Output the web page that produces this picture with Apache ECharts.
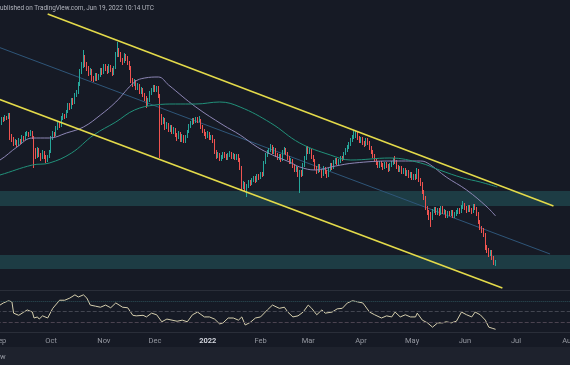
<!DOCTYPE html>
<html><head><meta charset="utf-8">
<script src="https://cdn.jsdelivr.net/npm/echarts/dist/echarts.min.js"></script>
<style>html,body{margin:0;padding:0;background:#161a25;overflow:hidden}#c{width:570px;height:365px}</style>
</head><body><div id="c"></div><script>
// ---- axis domain ----
const axisStart = '2021-08-20';
const axisDays = 356;
const candleStart = '2021-08-25';
const monthNames = ['Jan','Feb','Mar','Apr','May','Jun','Jul','Aug','Sep','Oct','Nov','Dec'];

// ---- daily candles (price units) ----
const opens = [170,173,176,172,174,171,169,
172,176,181,180,183,182,185,164,161,156,
159,155,160,158,163,161,166,167,165,168,
163,150,144,151,145,142,148,143,140,143,
148,162,167,165,172,176,174,182,185,183,
188,195,192,200,197,205,208,215,228,234,
242,236,232,226,230,222,220,225,221,224,
230,227,234,232,228,234,230,226,232,245,
250,246,240,238,244,242,237,232,220,216,
218,212,215,208,211,205,202,196,200,207,
210,213,210,212,204,182,178,180,172,176,
170,173,168,171,165,162,167,160,164,159,
163,168,174,177,180,178,181,179,180,173,
169,166,164,167,162,163,159,148,144,146,
141,143,146,144,142,145,147,143,145,142,
144,140,132,115,116,112,114,118,116,120,
122,119,124,122,126,125,137,145,148,150,
153,148,151,145,142,144,140,148,151,147,
142,138,140,134,130,132,125,128,125,135,
142,152,148,150,143,140,132,128,134,130,
125,132,128,124,130,135,132,138,140,137,
139,142,141,146,150,153,156,160,163,165,
166,162,159,161,157,155,160,157,152,148,
144,140,137,134,137,135,132,136,134,130,
135,137,140,138,133,130,132,128,130,126,
128,124,126,122,124,122,130,120,116,108,
102,92,88,84,82,89,91,87,90,86,
92,88,89,84,87,86,88,84,86,88,
90,88,93,96,92,89,93,90,88,94,
92,86,78,72,70,66,53,50,46,48,
42,37];
const closes = [173,176,172,174,171,169,172,
176,181,180,183,182,185,164,161,156,159,
155,160,158,163,161,166,167,165,168,163,
150,144,151,145,142,148,143,140,143,148,
162,167,165,172,176,174,182,185,183,188,
195,192,200,197,205,208,215,228,234,242,
236,232,226,230,222,220,225,221,224,230,
227,234,232,228,234,230,226,232,245,250,
246,240,238,244,242,237,232,220,216,218,
212,215,208,211,205,202,196,200,207,210,
213,210,212,204,182,178,180,172,176,170,
173,168,171,165,162,167,160,164,159,163,
168,174,177,180,178,181,179,180,173,169,
166,164,167,162,163,159,148,144,146,141,
143,146,144,142,145,147,143,145,142,144,
140,132,115,116,112,114,118,116,120,122,
119,124,122,126,125,137,145,148,150,153,
148,151,145,142,144,140,148,151,147,142,
138,140,134,130,132,125,128,125,135,142,
152,148,150,143,140,132,128,134,130,125,
132,128,124,130,135,132,138,140,137,139,
142,141,146,150,153,156,160,163,165,166,
162,159,161,157,155,160,157,152,148,144,
140,137,134,137,135,132,136,134,130,135,
137,140,138,133,130,132,128,130,126,128,
124,126,122,124,122,130,120,116,108,102,
92,88,84,82,89,91,87,90,86,92,
88,89,84,87,86,88,84,86,88,90,
88,93,96,92,89,93,90,88,94,92,
86,78,72,70,66,53,50,46,48,42,
37,38];
const lows = [168,172,170,171,169,167,168,
171,175,178,179,180,181,160,158,154,155,
153,154,156,157,159,160,164,163,164,161,
132,141,142,143,139,141,141,137,138,142,
147,160,163,164,170,172,173,180,181,182,
187,190,191,195,196,203,206,214,226,232,
233,229,224,225,219,218,219,219,220,223,
225,226,229,226,227,228,224,225,231,243,
243,238,235,237,239,235,230,217,213,214,
210,210,206,206,203,199,192,194,198,205,
208,208,208,202,142,175,176,170,171,168,
168,166,166,163,159,161,158,158,157,157,
162,167,172,175,176,177,177,178,171,167,
164,161,162,160,160,157,146,141,142,139,
139,141,142,140,140,143,141,141,140,140,
138,130,110,111,109,103,112,114,115,118,
117,118,120,121,123,124,136,143,146,148,
146,146,143,140,140,138,139,146,145,140,
136,136,132,128,128,123,107,123,124,133,
140,146,146,141,138,130,126,127,128,122,
124,126,122,123,129,130,131,136,135,135,
137,139,140,145,148,151,154,158,161,162,
160,157,157,155,153,154,155,150,146,142,
138,135,132,132,133,130,131,132,128,129,
133,135,136,131,128,128,126,126,124,124,
122,122,120,120,120,121,118,114,106,100,
90,85,80,73,80,87,85,85,84,85,
86,86,82,82,84,84,82,82,84,86,
86,87,91,90,87,88,88,86,87,90,
84,76,70,67,63,50,47,43,44,40,
35,34];
const highs = [175,178,177,176,175,172,174,
178,183,183,185,184,187,187,166,163,161,
160,162,161,165,164,168,169,168,170,169,
164,152,153,152,147,150,149,145,145,150,
164,169,168,174,178,178,184,187,186,190,
197,197,202,202,207,210,218,231,238,250,
245,238,234,232,231,224,227,227,226,232,
232,236,236,234,236,235,232,234,248,258,
252,248,242,247,246,244,239,234,222,221,
220,217,216,213,212,207,204,202,209,212,
215,215,214,214,206,186,183,182,178,177,
175,175,173,172,167,169,168,166,165,165,
170,176,179,182,182,183,183,184,181,175,
171,168,169,168,165,165,161,150,148,147,
145,148,148,146,147,149,148,147,146,146,
146,142,134,119,118,116,120,120,122,124,
124,126,126,128,128,139,147,150,152,156,
155,153,152,147,146,146,150,153,152,148,
144,142,141,136,134,133,130,130,137,144,
154,154,152,151,145,141,134,136,136,131,
134,133,130,132,137,137,140,142,142,141,
144,144,148,152,155,158,162,165,170,169,
168,164,163,163,159,162,162,159,154,150,
146,142,139,139,139,137,138,138,136,137,
139,142,144,140,135,134,134,132,132,130,
130,128,128,126,126,132,131,122,118,110,
104,94,90,88,91,93,93,92,92,94,
94,91,90,89,89,90,90,88,90,92,
92,95,99,97,94,95,95,92,96,96,
93,88,80,74,72,67,55,52,50,50,
44,40];

// ---- moving averages ----
const maSlowDates = ['2021-08-25','2021-09-01','2021-09-11','2021-09-20','2021-09-30','2021-10-10','2021-10-20','2021-10-30','2021-11-08','2021-11-19','2021-11-25','2021-12-03','2021-12-09','2021-12-25','2022-01-10','2022-01-20','2022-01-30','2022-02-08','2022-02-18','2022-02-24','2022-03-05','2022-03-17','2022-03-28','2022-04-18','2022-05-06','2022-05-11','2022-05-21','2022-06-02','2022-06-14','2022-06-19'];
const maSlowValues = [135,140,153,162,162,167,173,185,198,218,222,223,215,193,175,165,153,145,138,133,130,134,137,139,139,136,123,110,93,84];
const maLongDates = ['2021-08-25','2021-09-01','2021-09-20','2021-09-30','2021-10-13','2021-10-26','2021-11-08','2021-11-19','2021-12-01','2021-12-13','2021-12-25','2022-01-08','2022-01-20','2022-02-07','2022-02-24','2022-03-14','2022-03-26','2022-04-18','2022-05-06','2022-05-17','2022-05-31','2022-06-10','2022-06-20'];
const maLongValues = [122,125,135,137,147,165,178,190,195,196,196,198,193,177,157,145,140,142,137,130,122,118,113];

// ---- drawn channel & zones ----
const upperLineDates = ['2021-09-29','2022-07-23'];
const upperLineValues = [286,94];
const lowerLineDates = ['2021-08-20','2022-06-23'];
const lowerLineValues = [208,12];
const midLineDates = ['2021-08-20','2022-07-21'];
const midLineValues = [260,46];
const zoneUpper = [94,109];
const zoneLower = [31,45];

// ---- RSI ----
const rsiDates = ['2021-08-27','2021-09-01','2021-09-03','2021-09-06','2021-09-08','2021-09-09','2021-09-12','2021-09-15','2021-09-17','2021-09-20','2021-09-21','2021-09-23','2021-09-24','2021-09-26','2021-09-29','2021-09-30','2021-10-02','2021-10-03','2021-10-06','2021-10-09','2021-10-12','2021-10-15','2021-10-17','2021-10-20','2021-10-22','2021-10-24','2021-10-27','2021-10-30','2021-11-02','2021-11-05','2021-11-08','2021-11-09','2021-11-12','2021-11-15','2021-11-18','2021-11-20','2021-11-24','2021-11-26','2021-11-29','2021-12-02','2021-12-05','2021-12-08','2021-12-11','2021-12-14','2021-12-17','2021-12-20','2021-12-23','2021-12-26','2021-12-27','2021-12-30','2022-01-02','2022-01-05','2022-01-08','2022-01-10','2022-01-13','2022-01-16','2022-01-19','2022-01-21','2022-01-23','2022-01-26','2022-01-29','2022-02-01','2022-02-02','2022-02-05','2022-02-08','2022-02-09','2022-02-12','2022-02-15','2022-02-17','2022-02-20','2022-02-23','2022-02-26','2022-03-01','2022-03-03','2022-03-06','2022-03-09','2022-03-11','2022-03-15','2022-03-18','2022-03-21','2022-03-24','2022-03-27','2022-03-30','2022-04-02','2022-04-03','2022-04-06','2022-04-09','2022-04-13','2022-04-16','2022-04-19','2022-04-21','2022-04-24','2022-04-27','2022-04-30','2022-05-03','2022-05-04','2022-05-07','2022-05-10','2022-05-13','2022-05-16','2022-05-19','2022-05-21','2022-05-24','2022-05-27','2022-05-30','2022-06-02','2022-06-05','2022-06-07','2022-06-10','2022-06-13','2022-06-15','2022-06-17','2022-06-19'];
const rsiValues = [58,62,66,70,68,47,43,49,53,49,38,40,36,42,38,40,56,58,71,71,75,81,77,81,75,62,60,58,62,57,66,68,58,57,43,42,43,40,47,44,31,36,34,32,34,31,44,49,47,40,40,36,27,29,38,38,34,40,25,30,38,40,38,53,62,64,56,58,49,40,42,49,62,56,44,53,47,49,55,56,66,70,68,66,62,49,44,38,42,40,49,40,44,40,40,47,34,29,21,29,29,31,29,32,49,44,40,49,44,34,21,19,17];
const rsiLevels = [70,50,30];

// ---- text ----
const headerText = 'ublished on TradingView.com, Jun 19, 2022 10:14 UTC';

// build categories
function fmt(d){return d.toISOString().slice(0,10);}
const categories = [];
{ const t0 = new Date(axisStart+'T00:00:00Z'); for(let i=0;i<axisDays;i++){ categories.push(fmt(new Date(t0.getTime()+i*86400000))); } }
const candleDates = [];
{ const t0 = new Date(candleStart+'T00:00:00Z'); for(let i=0;i<closes.length;i++){ candleDates.push(fmt(new Date(t0.getTime()+i*86400000))); } }
const candleData = candleDates.map((d,i)=>[d,opens[i],closes[i],lows[i],highs[i]]);
const pairs = (ds,vs)=>ds.map((d,i)=>[d,vs[i]]);

const band = 1.703;
const gLeft = -12.5*band;
const gRight = 570 - (gLeft + axisDays*band);

const chart = echarts.init(document.getElementById('c'), null, {renderer:'canvas'});
const FONT = 'Roboto, "Liberation Sans", sans-serif';
chart.setOption({
  animation:false,
  backgroundColor:'#161a25',
  grid:[
    {left:gLeft, right:gRight, top:0, height:290, containLabel:false, outerBoundsMode:'none'},
    {left:gLeft, right:gRight, top:290, height:42, containLabel:false, outerBoundsMode:'none'}
  ],
  xAxis:[
    {type:'category', gridIndex:0, data:categories, boundaryGap:true, show:false},
    {type:'category', gridIndex:1, data:categories, boundaryGap:true,
     axisLine:{show:false}, axisTick:{show:false}, splitLine:{show:false},
     axisLabel:{
       interval:(i,v)=>v.slice(8)==='01',
       formatter:(v)=>{const m=+v.slice(5,7); return m===1?'{y|'+v.slice(0,4)+'}':monthNames[m-1];},
       color:'#9598a1', fontSize:7.5, fontFamily:FONT, margin:5, hideOverlap:false,
       rich:{y:{color:'#d1d4dc', fontWeight:'bold', fontSize:7.5, fontFamily:FONT}}
     }}
  ],
  yAxis:[
    {type:'value', gridIndex:0, min:10, max:300, show:false},
    {type:'value', gridIndex:1, min:12, max:90, show:false}
  ],
  series:[
    {type:'candlestick', xAxisIndex:0, yAxisIndex:0, data:candleData,
     dimensions:['date','open','close','lowest','highest'],
     encode:{x:'date', y:['open','close','lowest','highest']},
     barWidth:1.3, z:3,
     itemStyle:{color:'#26a69a', color0:'#ef5350', borderColor:'#26a69a', borderColor0:'#ef5350', borderWidth:1},
     markArea:{silent:true, itemStyle:{color:'#1d3c44'}, data:[
       [{yAxis:zoneUpper[0]},{yAxis:zoneUpper[1]}],
       [{yAxis:zoneLower[0]},{yAxis:zoneLower[1]}]
     ]}},
    {type:'line', name:'mid', data:pairs(midLineDates,midLineValues), showSymbol:false, silent:true, z:2,
     lineStyle:{color:'#2f5679', width:1}},
    {type:'line', name:'maSlow', data:pairs(maSlowDates,maSlowValues), smooth:0.4, showSymbol:false, silent:true, z:4,
     lineStyle:{color:'#8d86b5', width:1}},
    {type:'line', name:'maLong', data:pairs(maLongDates,maLongValues), smooth:0.4, showSymbol:false, silent:true, z:4,
     lineStyle:{color:'#22917a', width:1}},
    {type:'line', name:'upper', data:pairs(upperLineDates,upperLineValues), showSymbol:false, silent:true, z:5,
     lineStyle:{color:'#e3da4a', width:1.6}},
    {type:'line', name:'lower', data:pairs(lowerLineDates,lowerLineValues), showSymbol:false, silent:true, z:5,
     lineStyle:{color:'#e3da4a', width:1.6}},
    {type:'line', name:'rsi', xAxisIndex:1, yAxisIndex:1, data:pairs(rsiDates,rsiValues), showSymbol:false, silent:true, z:4,
     lineStyle:{color:'#d6cfae', width:1},
     markLine:{silent:true, symbol:['none','none'], label:{show:false}, data:[
       {yAxis:90, lineStyle:{type:'solid', color:'#2a2e39', width:1}},
       {yAxis:rsiLevels[0], lineStyle:{type:'dotted', color:'#2c5058', width:1}},
       {yAxis:rsiLevels[1], lineStyle:{type:'dashed', color:'#434651', width:1}},
       {yAxis:rsiLevels[2], lineStyle:{type:'dashed', color:'#4b4350', width:1}},
       {yAxis:12, lineStyle:{type:'solid', color:'#2a2e39', width:1}}
     ]}}
  ],
  graphic:[
    {type:'rect', left:0, top:347, shape:{width:570, height:18}, style:{fill:'#1e222d'}, z:-1},
    {type:'text', left:0, top:5, style:{text:headerText, fill:'#b2b5be', font:'6.4px '+FONT}},
    {type:'text', left:0, top:353, style:{text:'w', fill:'#9598a1', font:'7.5px '+FONT}}
  ]
});
</script></body></html>
